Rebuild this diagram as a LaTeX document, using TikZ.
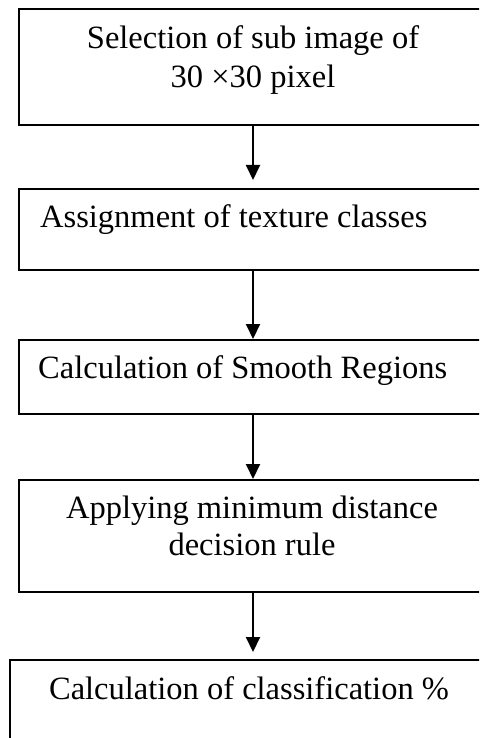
\documentclass[tikz,border=0pt]{standalone}
\usepackage{fontspec}
\setmainfont{Liberation Serif}
\usetikzlibrary{arrows.meta}
\begin{document}
\begin{tikzpicture}[x=1pt,y=-1pt,
  box/.style={draw, line width=2pt, inner sep=0pt, anchor=north west},
  txt/.style={inner sep=0pt, font=\fontsize{32.5}{38}\selectfont},
  arr/.style={line width=2pt, -{Triangle[length=15pt,width=14pt]}}]
\useasboundingbox (0,0) rectangle (479,738);
\clip (0,0) rectangle (479,738);
\node[box, minimum width=468pt, minimum height=116pt] (b1) at (18,8) {};
\node[box, minimum width=468pt, minimum height=81pt] (b2) at (18,188) {};
\node[box, minimum width=468pt, minimum height=74pt] (b3) at (18,339) {};
\node[box, minimum width=468pt, minimum height=112pt] (b4) at (18,479) {};
\node[box, minimum width=486pt, minimum height=150pt] (b5) at (9,659) {};
\node[txt, anchor=base] (t1a) at (253,49) {Selection of sub image of};
\node[txt, anchor=base] (t1b) at (253,88) {30 ×30 pixel};
\node[txt, anchor=base west] (t2) at (40,227) {Assignment of texture classes};
\node[txt, anchor=base west] (t3) at (38,378) {Calculation of Smooth Regions};
\node[txt, anchor=base] (t4a) at (252,518) {Applying minimum distance};
\node[txt, anchor=base] (t4b) at (252,555) {decision rule};
\node[txt, anchor=base] (t5) at (249,699) {Calculation of classification \%};
\draw[arr, shorten >=8pt] (b1.south) -- (b2.north);
\draw[arr] (b2.south) -- (b3.north);
\draw[arr] (b3.south) -- (b4.north);
\draw[arr, shorten >=7pt] (b4.south) -- (b5.north);
\end{tikzpicture}
\end{document}
